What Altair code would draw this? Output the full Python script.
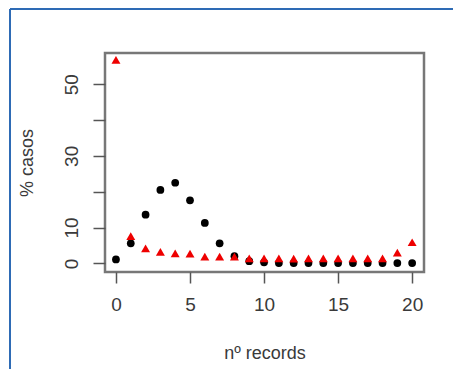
import altair as alt
import pandas as pd

records = list(range(21))
serie_negra = [1.1, 5.6, 13.6, 20.5, 22.5, 17.6, 11.3, 5.6, 2.0, 0.6, 0.3,
               0.1, 0.1, 0.1, 0.1, 0.1, 0.1, 0.1, 0.1, 0.1, 0.1]
serie_roja = [56.8, 7.6, 4.2, 3.2, 2.8, 2.7, 1.9, 1.9, 1.9, 1.4, 1.4,
              1.4, 1.3, 1.4, 1.4, 1.4, 1.4, 1.4, 1.4, 3.0, 5.9]
y_ticks = [0, 10, 20, 30, 40, 50]
x_ticks = [0, 5, 10, 15, 20]

df = pd.DataFrame({"x": records, "negra": serie_negra, "roja": serie_roja})

W, H = 319, 219
font = "Liberation Sans"

xscale = alt.Scale(domain=[-0.74, 20.8], nice=False, zero=False)
yscale = alt.Scale(domain=[-2.4, 58.7], nice=False, zero=False)

xaxis = alt.Axis(values=x_ticks, title="nº records", tickSize=11, labelPadding=12,
                 labelFontSize=19, labelColor="#3a3a3a", titleFontSize=18, titleColor="#3a3a3a",
                 titleFontWeight="normal", titleX=W / 2, titleY=81, titleBaseline="middle",
                 domain=False, tickColor="#555", tickWidth=1.5, grid=False,
                 labelFont=font, titleFont=font)
yaxis = alt.Axis(values=y_ticks, title="% casos", tickSize=12, labelPadding=12,
                 labelAngle=-90, labelAlign="center", labelBaseline="bottom",
                 labelExpr="datum.value == 20 || datum.value == 40 ? '' : datum.label",
                 labelFontSize=19, labelColor="#3a3a3a", titleFontSize=18, titleColor="#3a3a3a",
                 titleFontWeight="normal", titleX=-78, titleY=H / 2, titleAngle=-90,
                 titleAlign="center", titleBaseline="middle",
                 domain=False, tickColor="#555", tickWidth=1.5, grid=False,
                 labelFont=font, titleFont=font)

base = alt.Chart(df)

negra = base.mark_point(filled=True, shape="circle", size=60, color="black", opacity=1).encode(
    x=alt.X("x:Q", scale=xscale, axis=xaxis),
    y=alt.Y("negra:Q", scale=yscale, axis=yaxis),
)
roja = base.mark_point(filled=True, shape="triangle-up", size=80, color="#ee0000", opacity=1).encode(
    x=alt.X("x:Q", scale=xscale),
    y=alt.Y("roja:Q", scale=yscale),
)

frame_color = "#2e6bb5"
marco_izq = alt.Chart(pd.DataFrame({"a": [0]})).mark_rule(color=frame_color, strokeWidth=2).encode(
    x=alt.value(-95), y=alt.value(-44), y2=alt.value(H + 120)
)
marco_sup = alt.Chart(pd.DataFrame({"a": [0]})).mark_rule(color=frame_color, strokeWidth=2).encode(
    x=alt.value(-95), x2=alt.value(W + 60), y=alt.value(-44)
)

chart = alt.layer(marco_izq, marco_sup, negra, roja).properties(
    width=W, height=H,
    autosize=alt.AutoSizeParams(type="none"),
    padding={"left": 97, "top": 45, "right": 29, "bottom": 97},
).configure(background="white").configure_view(stroke="#777", strokeWidth=2.5)

chart.save("out.html", embed_options={"renderer": "svg", "actions": False})
